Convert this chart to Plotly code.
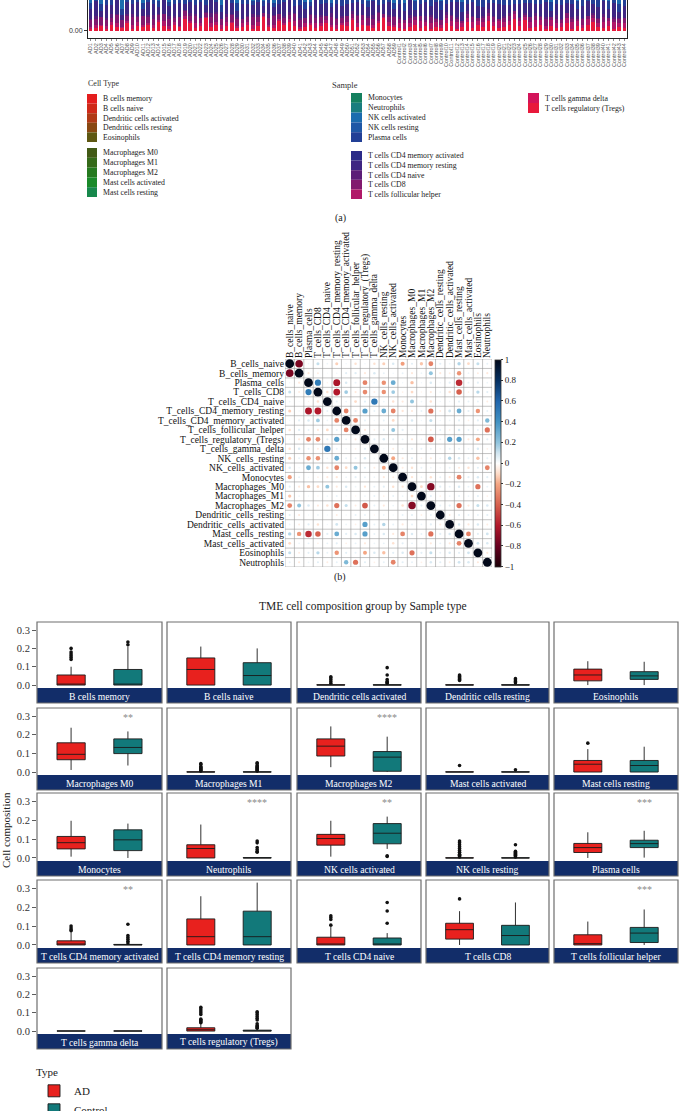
import plotly.graph_objects as go

W, H = 680, 1111
def fx(px): return px / W
def fy(py): return 1 - py / H

SERIF = "Liberation Serif"
SANS = "Liberation Sans"

# ------------------------- (a) stacked bar data -------------------------
cell_types = ["B cells memory", "B cells naive", "Dendritic cells activated", "Dendritic cells resting", "Eosinophils",
              "Macrophages M0", "Macrophages M1", "Macrophages M2", "Mast cells activated", "Mast cells resting",
              "Monocytes", "Neutrophils", "NK cells activated", "NK cells resting", "Plasma cells",
              "T cells CD4 memory activated", "T cells CD4 memory resting", "T cells CD4 naive", "T cells CD8",
              "T cells follicular helper", "T cells gamma delta", "T cells regulatory (Tregs)"]
cell_colors = ["#E41E1E", "#CF2A1A", "#B03A16", "#894812", "#5E5812",
               "#425A16", "#356A1A", "#257A20", "#1A8A2A", "#17884C",
               "#15805F", "#1A7D7E", "#1B6CAE", "#1F58A6", "#223F96",
               "#2B2B88", "#3E2682", "#5C1E78", "#82196E", "#B01868",
               "#D3145A", "#E8193C"]

ad_samples = ["AD%d" % i for i in range(1, 60)]
ctrl_samples = ["Control%d" % i for i in range(1, 45)]
samples = ad_samples + ctrl_samples

tregs_ad = [0.02,0.03,0.05,0.02,0.06,0.04,0.03,0.07,0.02,0.05,
            0.04,0.06,0.03,0.08,0.05,0.02,0.06,0.04,0.11,0.07,
            0.03,0.05,0.12,0.04,0.06,0.02,0.05,0.07,0.03,0.04,
            0.06,0.02,0.05,0.13,0.04,0.03,0.09,0.06,0.08,0.05,
            0.02,0.04,0.06,0.03,0.05,0.07,0.04,0.02,0.06,0.05,
            0.10,0.04,0.06,0.05,0.03,0.07,0.12,0.05,0.04]
tregs_ctrl = [0.03,0.02,0.04,0.06,0.03,0.05,0.02,0.04,0.03,0.07,
              0.05,0.02,0.04,0.08,0.03,0.06,0.04,0.09,0.05,0.03,
              0.04,0.06,0.11,0.05,0.10,0.03,0.04,0.06,0.02,0.05,
              0.03,0.04,0.07,0.02,0.05,0.03,0.06,0.08,0.04,0.03,
              0.05,0.02,0.04,0.03]
tfh_ad = [0.02,0.03,0.01,0.03,0.02,0.03,0.01,0.02,0.04,0.03,
          0.02,0.01,0.03,0.02,0.04,0.03,0.02,0.01,0.03,0.02,
          0.04,0.02,0.01,0.03,0.02,0.04,0.03,0.01,0.02,0.03,
          0.02,0.04,0.03,0.01,0.02,0.03,0.02,0.01,0.03,0.04,
          0.02,0.03,0.01,0.04,0.02,0.03,0.02,0.04,0.01,0.03,
          0.02,0.03,0.04,0.01,0.03,0.02,0.01,0.03,0.02]
tfh_ctrl = [0.04,0.05,0.03,0.04,0.06,0.03,0.05,0.04,0.03,0.05,
            0.04,0.06,0.03,0.04,0.05,0.03,0.04,0.05,0.03,0.06,
            0.04,0.03,0.05,0.04,0.03,0.05,0.06,0.04,0.03,0.05,
            0.04,0.03,0.05,0.06,0.04,0.03,0.05,0.04,0.03,0.05,
            0.04,0.06,0.03,0.04]
cd8_ad = [0.06,0.05,0.07,0.05,0.04,0.08,0.06,0.05,0.07,0.05,
          0.08,0.06,0.05,0.05,0.07,0.06,0.04,0.08,0.05,0.05,
          0.07,0.05,0.04,0.06,0.08,0.05,0.05,0.07,0.06,0.04,
          0.05,0.07,0.05,0.03,0.06,0.08,0.05,0.05,0.04,0.07,
          0.06,0.05,0.08,0.05,0.06,0.04,0.07,0.05,0.05,0.06,
          0.04,0.07,0.05,0.06,0.05,0.08,0.03,0.05,0.07]
cd8_ctrl = [0.04,0.03,0.05,0.03,0.05,0.02,0.06,0.03,0.04,0.03,
            0.05,0.03,0.02,0.04,0.05,0.03,0.04,0.03,0.05,0.02,
            0.04,0.05,0.03,0.03,0.02,0.05,0.04,0.03,0.06,0.03,
            0.04,0.03,0.05,0.03,0.02,0.05,0.03,0.03,0.04,0.05,
            0.03,0.03,0.04,0.05]
cd4n_ad = [0.01,0.03,0.00,0.02,0.04,0.01,0.00,0.02,0.03,0.01,
           0.00,0.02,0.04,0.01,0.00,0.03,0.02,0.00,0.01,0.03,
           0.02,0.00,0.01,0.04,0.02,0.00,0.03,0.01,0.02,0.00,
           0.01,0.03,0.02,0.00,0.04,0.01,0.00,0.02,0.03,0.01,
           0.02,0.00,0.01,0.03,0.02,0.00,0.04,0.01,0.02,0.00,
           0.03,0.01,0.00,0.02,0.04,0.01,0.00,0.02,0.01]
cd4n_ctrl = [0.02,0.00,0.03,0.01,0.00,0.04,0.02,0.01,0.00,0.03,
             0.01,0.02,0.00,0.03,0.01,0.00,0.02,0.04,0.01,0.00,
             0.02,0.03,0.00,0.01,0.02,0.00,0.03,0.01,0.02,0.00,
             0.04,0.01,0.00,0.02,0.03,0.01,0.00,0.02,0.01,0.03,
             0.00,0.02,0.01,0.00]
cd4mr_ad = [0.10,0.14,0.06,0.12,0.08,0.15,0.05,0.11,0.09,0.13,
            0.07,0.12,0.10,0.06,0.14,0.09,0.11,0.13,0.05,0.10,
            0.08,0.15,0.06,0.12,0.09,0.07,0.13,0.10,0.06,0.14,
            0.11,0.08,0.12,0.06,0.10,0.07,0.09,0.13,0.11,0.06,
            0.12,0.09,0.07,0.14,0.10,0.12,0.05,0.13,0.09,0.11,
            0.07,0.12,0.10,0.08,0.13,0.06,0.09,0.12,0.07]
cd4mr_ctrl = [0.12,0.09,0.14,0.06,0.11,0.13,0.08,0.15,0.10,0.07,
              0.12,0.14,0.09,0.06,0.13,0.11,0.08,0.05,0.12,0.14,
              0.10,0.07,0.06,0.12,0.09,0.13,0.08,0.11,0.14,0.06,
              0.10,0.13,0.09,0.12,0.07,0.11,0.14,0.08,0.10,0.12,
              0.09,0.13,0.06,0.11]
plasma_ad = [0.05,0.04,0.06,0.05,0.07,0.04,0.06,0.05,0.04,0.06,
             0.05,0.07,0.04,0.06,0.05,0.04,0.06,0.07,0.05,0.04,
             0.06,0.05,0.07,0.04,0.05,0.06,0.04,0.05,0.07,0.06,
             0.05,0.04,0.06,0.05,0.07,0.04,0.05,0.06,0.04,0.07,
             0.05,0.06,0.04,0.05,0.07,0.06,0.04,0.05,0.06,0.05,
             0.07,0.04,0.05,0.06,0.04,0.05,0.07,0.06,0.05]
plasma_ctrl = [0.08,0.07,0.09,0.08,0.07,0.09,0.08,0.07,0.08,0.09,
               0.07,0.08,0.09,0.07,0.08,0.08,0.09,0.07,0.08,0.07,
               0.09,0.08,0.07,0.08,0.09,0.07,0.08,0.09,0.07,0.08,
               0.08,0.07,0.09,0.08,0.07,0.08,0.09,0.07,0.08,0.09,
               0.07,0.08,0.07,0.09]
nka_ad = [0.10,0.08,0.12,0.09,0.11,0.07,0.13,0.10,0.08,0.09,
          0.11,0.10,0.12,0.08,0.09,0.11,0.10,0.07,0.12,0.09,
          0.10,0.08,0.11,0.09,0.10,0.12,0.08,0.09,0.11,0.10,
          0.09,0.12,0.08,0.10,0.11,0.09,0.10,0.08,0.12,0.09,
          0.11,0.10,0.09,0.08,0.12,0.10,0.11,0.09,0.10,0.08,
          0.12,0.09,0.10,0.11,0.08,0.10,0.09,0.12,0.10]
nka_ctrl = [0.13,0.15,0.12,0.14,0.13,0.16,0.12,0.14,0.15,0.13,
            0.12,0.14,0.16,0.13,0.12,0.15,0.14,0.13,0.12,0.16,
            0.14,0.13,0.12,0.15,0.14,0.13,0.12,0.16,0.14,0.13,
            0.15,0.12,0.14,0.13,0.16,0.12,0.14,0.15,0.13,0.12,
            0.14,0.13,0.15,0.12]

stack_layers = [  # bottom to top
    ("T cells regulatory (Tregs)", tregs_ad + tregs_ctrl),
    ("T cells follicular helper", tfh_ad + tfh_ctrl),
    ("T cells CD8", cd8_ad + cd8_ctrl),
    ("T cells CD4 naive", cd4n_ad + cd4n_ctrl),
    ("T cells CD4 memory resting", cd4mr_ad + cd4mr_ctrl),
    ("Plasma cells", plasma_ad + plasma_ctrl),
    ("NK cells activated", nka_ad + nka_ctrl),
]

# ------------------------- (b) correlation data -------------------------
corr_names = ["B_cells_naive", "B_cells_memory", "Plasma_cells", "T_cells_CD8", "T_cells_CD4_naive",
              "T_cells_CD4_memory_resting", "T_cells_CD4_memory_activated", "T_cells_follicular_helper",
              "T_cells_regulatory_(Tregs)", "T_cells_gamma_delta", "NK_cells_resting", "NK_cells_activated",
              "Monocytes", "Macrophages_M0", "Macrophages_M1", "Macrophages_M2", "Dendritic_cells_resting",
              "Dendritic_cells_activated", "Mast_cells_resting", "Mast_cells_activated", "Eosinophils", "Neutrophils"]
corr_lower = [
    [],
    [-0.75],
    [0.03, -0.06],
    [0.12, -0.05, 0.5],
    [0.04, 0.02, -0.03, -0.08],
    [-0.12, 0.03, -0.62, -0.6, 0.05],
    [0.03, 0.06, 0.08, 0.18, 0.04, -0.3],
    [-0.08, 0.07, 0.05, -0.06, -0.1, 0.05, -0.3],
    [0.03, -0.06, -0.3, -0.28, 0.06, 0.35, 0.05, -0.06],
    [-0.08, 0.08, 0.05, -0.05, 0.52, 0.05, 0.03, -0.04, 0.06],
    [-0.12, 0.05, -0.26, -0.26, 0.04, 0.3, 0.05, 0.05, 0.08, 0.03],
    [0.08, 0.03, 0.3, 0.18, -0.08, -0.3, -0.1, 0.2, 0.06, -0.05, -0.2],
    [-0.22, 0.05, 0.03, -0.04, -0.06, -0.07, 0.04, 0.06, 0.05, 0.04, -0.06, -0.05],
    [0.06, -0.06, -0.15, -0.1, 0.2, -0.06, 0.08, 0.04, -0.07, 0.05, 0.06, -0.08, -0.07],
    [-0.14, 0.04, 0.03, -0.03, 0.04, 0.05, 0.03, -0.03, 0.04, 0.05, -0.04, 0.05, 0.04, -0.1],
    [-0.3, 0.2, 0.08, -0.06, -0.08, -0.35, 0.12, -0.05, -0.42, 0.05, -0.06, 0.04, -0.08, -0.72, 0.06],
    [0.06, -0.06, 0.03, 0.04, 0.03, -0.05, 0.03, 0.05, 0.05, -0.03, 0.04, 0.03, 0.05, 0.06, -0.04, 0.05],
    [0.04, -0.05, 0.06, -0.08, 0.03, 0.1, 0.04, -0.04, 0.35, 0.05, 0.15, 0.05, -0.06, 0.05, 0.04, 0.06, -0.05],
    [0.15, -0.25, -0.55, -0.4, 0.06, 0.3, 0.06, 0.08, 0.35, 0.05, 0.08, -0.06, -0.3, 0.08, 0.05, -0.35, 0.06, 0.08],
    [-0.1, 0.04, 0.05, -0.04, 0.05, 0.06, -0.04, 0.05, -0.06, 0.04, 0.05, -0.08, 0.06, 0.05, 0.04, -0.06, 0.05, -0.06, -0.3],
    [0.12, -0.05, 0.06, 0.14, 0.05, -0.25, 0.06, 0.05, -0.2, 0.08, -0.15, 0.06, 0.08, -0.35, 0.06, 0.12, 0.05, 0.08, 0.06, 0.1],
    [0.05, -0.06, 0.04, 0.06, -0.05, 0.05, 0.25, -0.35, 0.06, -0.04, 0.05, -0.3, 0.06, 0.05, -0.04, 0.08, 0.06, -0.05, 0.1, 0.08, -0.06],
]
corr_ticks = [1, 0.8, 0.6, 0.4, 0.2, 0, -0.2, -0.4, -0.6, -0.8, -1]

# ------------------------- (c) box plot data -------------------------
box_panels = ["B cells memory", "B cells naive", "Dendritic cells activated", "Dendritic cells resting", "Eosinophils",
              "Macrophages M0", "Macrophages M1", "Macrophages M2", "Mast cells activated", "Mast cells resting",
              "Monocytes", "Neutrophils", "NK cells activated", "NK cells resting", "Plasma cells",
              "T cells CD4 memory activated", "T cells CD4 memory resting", "T cells CD4 naive", "T cells CD8",
              "T cells follicular helper", "T cells gamma delta", "T cells regulatory (Tregs)"]
ad_q1 = [0, 0, 0, 0, 0.023, 0.066, 0, 0.086, 0, 0, 0.048, 0, 0.068, 0, 0.029, 0, 0, 0, 0.031, 0, 0, 0]
ad_med = [0.005, 0.085, 0, 0, 0.055, 0.095, 0, 0.139, 0, 0.042, 0.081, 0.05, 0.103, 0, 0.055, 0.004, 0.044, 0.002, 0.081, 0.007, 0, 0.007]
ad_q3 = [0.055, 0.148, 0.002, 0.002, 0.087, 0.157, 0.001, 0.178, 0.001, 0.062, 0.114, 0.07, 0.125, 0.001, 0.077, 0.022, 0.138, 0.041, 0.115, 0.054, 0.001, 0.018]
ad_lo = [0, 0, 0, 0, 0, 0.011, 0, 0.026, 0, 0, 0.007, 0, 0.007, 0, 0, 0, 0, 0, 0, 0, 0, 0]
ad_hi = [0.10, 0.21, 0.004, 0.004, 0.13, 0.238, 0.002, 0.245, 0.002, 0.123, 0.197, 0.177, 0.197, 0.002, 0.136, 0.068, 0.258, 0.095, 0.179, 0.124, 0.001, 0.04]
ad_out = [[0.14, 0.15, 0.16, 0.17, 0.18, 0.20], [], [0.01, 0.02, 0.03, 0.04, 0.045],
          [0.025, 0.03, 0.035, 0.04, 0.045, 0.05, 0.055], [],
          [], [0.005, 0.01, 0.015, 0.02, 0.025, 0.03, 0.04, 0.045], [], [0.035], [0.155],
          [], [], [], [0.005, 0.01, 0.015, 0.02, 0.03, 0.04, 0.05, 0.06, 0.07, 0.08, 0.09], [],
          [0.075, 0.08, 0.09, 0.1], [], [0.105, 0.135, 0.145, 0.155], [0.244], [],
          [], [0.045, 0.05, 0.055, 0.06, 0.065, 0.09, 0.1, 0.11, 0.12, 0.13]]
ctrl_q1 = [0, 0, 0, 0, 0.031, 0.099, 0, 0.004, 0, 0, 0.039, 0, 0.075, 0, 0.055, 0, 0, 0, 0, 0.013, 0, 0]
ctrl_med = [0.005, 0.052, 0, 0, 0.05, 0.132, 0, 0.08, 0, 0.035, 0.096, 0, 0.131, 0, 0.076, 0.001, 0.044, 0.002, 0.05, 0.063, 0, 0.001]
ctrl_q3 = [0.085, 0.122, 0.002, 0.002, 0.073, 0.178, 0.001, 0.11, 0.001, 0.062, 0.149, 0.002, 0.182, 0.001, 0.094, 0.003, 0.179, 0.037, 0.104, 0.093, 0.001, 0.005]
ctrl_lo = [0, 0, 0, 0, 0, 0.035, 0, 0, 0, 0, 0, 0, 0.048, 0, 0.002, 0, 0, 0, 0, 0, 0, 0]
ctrl_hi = [0.21, 0.20, 0.004, 0.004, 0.127, 0.218, 0.002, 0.19, 0.002, 0.136, 0.182, 0.004, 0.219, 0.002, 0.144, 0.005, 0.33, 0.063, 0.225, 0.188, 0.001, 0.01]
ctrl_out = [[0.22, 0.235], [], [0.01, 0.015, 0.02, 0.03, 0.055, 0.095], [0.012, 0.02, 0.028, 0.035], [],
            [], [0.005, 0.01, 0.015, 0.02, 0.025, 0.03, 0.035, 0.045, 0.05], [], [0.012], [],
            [], [0.03, 0.035, 0.045, 0.055, 0.08, 0.09], [0.008, 0.012],
            [0.005, 0.01, 0.015, 0.02, 0.025, 0.03, 0.035, 0.07], [],
            [0.01, 0.02, 0.03, 0.04, 0.05, 0.11], [], [0.115, 0.18, 0.225], [], [],
            [], [0.015, 0.02, 0.025, 0.03, 0.04, 0.06, 0.07, 0.08, 0.09, 0.1, 0.105]]
sig_labels = ["", "", "", "", "", "**", "", "****", "", "", "", "****", "**", "", "***",
              "**", "", "", "", "***", "", ""]
groups = ["AD", "Control"]
group_colors = ["#E8211E", "#12797A"]
box_yticks = [0, 0.1, 0.2, 0.3]

# ------------------------- figure -------------------------
fig = go.Figure()
layout = dict(width=W, height=H, margin=dict(l=0, r=0, t=0, b=0, autoexpand=False),
              paper_bgcolor="white", plot_bgcolor="rgba(0,0,0,0)", template="none",
              font=dict(family=SERIF, color="#222"), barmode="stack", bargap=0.33,
              boxmode="overlay", boxgap=0.29, showlegend=True)
annotations = []
shapes = []

# (a) stacked bars
color_of = dict(zip(cell_types, cell_colors))
for name, vals in stack_layers:
    fig.add_trace(go.Bar(x=samples, y=vals, name=name, marker=dict(color=color_of[name], line=dict(width=0)),
                         xaxis="x", yaxis="y", showlegend=False, hoverinfo="skip"))
layout["xaxis"] = dict(domain=[fx(88), fx(627)], anchor="y", type="category", range=[-0.5, len(samples) - 0.5],
                       tickmode="array", tickvals=samples, ticktext=samples, tickangle=-90,
                       tickfont=dict(family=SANS, size=5.5, color="#555"), ticks="outside", ticklen=2,
                       tickwidth=0.6, tickcolor="#444", showline=True, linecolor="#222", linewidth=1, mirror=False,
                       showgrid=False, zeroline=False)
layout["yaxis"] = dict(domain=[fy(38), 1], anchor="x", range=[-0.066, 0.29], tickvals=[0], ticktext=["0.00"],
                       tickfont=dict(family=SANS, size=7, color="#333"), ticks="outside", ticklen=3,
                       tickcolor="#333", showline=True, linecolor="#222", linewidth=1, mirror=True,
                       showgrid=False, zeroline=False)
annotations.append(dict(text="Sample", x=fx(345), y=fy(78), xref="paper", yref="paper", showarrow=False,
                        xanchor="center", font=dict(family=SERIF, size=8.5, color="#333")))
annotations.append(dict(text="Cell Type", x=fx(86), y=fy(84), xref="paper", yref="paper", showarrow=False,
                        xanchor="left", yanchor="middle", font=dict(family=SERIF, size=8, color="#333")))
legend_blocks = [(0, 5, 87, 97, 94, 9.6), (5, 10, 87, 97, 148, 9.8), (10, 15, 351, 362, 93, 9.8),
                 (15, 20, 351, 362, 151, 9.6), (20, 22, 528, 539, 93, 10)]
for i0, i1, sx0, sx1, top, step in legend_blocks:
    for j, idx in enumerate(range(i0, i1)):
        y0 = top + j * step
        shapes.append(dict(type="rect", xref="paper", yref="paper", x0=fx(sx0), x1=fx(sx1), y0=fy(y0),
                           y1=fy(y0 + step), fillcolor=cell_colors[idx], line=dict(width=0), layer="above"))
        annotations.append(dict(text=cell_types[idx], x=fx(sx1 + 4), y=fy(y0 + step / 2), xref="paper",
                                yref="paper", showarrow=False, xanchor="left", yanchor="middle",
                                font=dict(family=SERIF, size=7.8, color="#222")))
annotations.append(dict(text="(a)", x=fx(340), y=fy(210), xref="paper", yref="paper", showarrow=False,
                        xanchor="center", font=dict(family=SERIF, size=10, color="#222")))

# (b) correlation plot
n = len(corr_names)
full = [[1.0 if i == j else None for j in range(n)] for i in range(n)]
for i in range(n):
    for j, v in enumerate(corr_lower[i]):
        full[i][j] = v
        full[j][i] = v
cx, cy, cv = [], [], []
for i in range(n):
    for j in range(n):
        cx.append(j + 1)
        cy.append(i + 1)
        cv.append(full[i][j])
gx, gy = [], []
for k in range(n + 1):
    gx += [k + 0.5, k + 0.5, None, 0.5, n + 0.5, None]
    gy += [0.5, n + 0.5, None, k + 0.5, k + 0.5, None]
fig.add_trace(go.Scatter(x=gx, y=gy, mode="lines", line=dict(color="#9a9a9a", width=0.6), xaxis="x2",
                         yaxis="y2", showlegend=False, hoverinfo="skip"))
cs_pts = [(-1, "#1c0008"), (-0.8, "#67001F"), (-0.6, "#B2182B"), (-0.4, "#D6604D"), (-0.2, "#F4A582"),
          (-0.1, "#FDDBC7"), (0, "#FFFFFF"), (0.1, "#D1E5F0"), (0.2, "#92C5DE"), (0.4, "#4393C3"),
          (0.6, "#2166AC"), (0.8, "#053061"), (1, "#02091a")]
colorscale = [[(v + 1) / 2, c] for v, c in cs_pts]
fig.add_trace(go.Scatter(
    x=cx, y=cy, mode="markers", xaxis="x2", yaxis="y2", showlegend=False,
    marker=dict(size=[8.8 * abs(v) ** 0.5 for v in cv], color=cv, colorscale=colorscale, cmin=-1, cmax=1,
                opacity=1, line=dict(width=0),
                colorbar=dict(x=fx(495), xanchor="left", xpad=0, y=fy(463), yanchor="middle", ypad=0,
                              len=207 / H, lenmode="fraction", thickness=6, thicknessmode="pixels",
                              outlinecolor="#333", outlinewidth=0.8, tickvals=corr_ticks,
                              ticktext=[("%g" % t).replace("-", "\u2212") for t in corr_ticks],
                              ticks="outside", ticklen=2, tickcolor="#333",
                              tickfont=dict(family=SERIF, size=9, color="#222"))),
    hoverinfo="skip"))
layout["xaxis2"] = dict(domain=[fx(285), fx(492)], anchor="y2", range=[0.5, n + 0.5], side="top",
                        tickmode="array", tickvals=list(range(1, n + 1)), ticktext=corr_names, tickangle=-90,
                        tickfont=dict(family=SERIF, size=9.5, color="#111"), ticks="", showgrid=False,
                        zeroline=False, showline=False)
layout["yaxis2"] = dict(domain=[fy(567), fy(359)], anchor="x2", range=[n + 0.5, 0.5], tickmode="array",
                        tickvals=list(range(1, n + 1)), ticktext=corr_names,
                        tickfont=dict(family=SERIF, size=9.5, color="#111"), ticks="", showgrid=False,
                        zeroline=False, showline=False)
annotations.append(dict(text="(b)", x=fx(340), y=fy(577), xref="paper", yref="paper", showarrow=False,
                        xanchor="center", font=dict(family=SERIF, size=10, color="#222")))

# (c) box plots
col_x = [(37, 162), (167, 291), (297, 421), (426, 549), (554, 678)]
row_top = [622, 708, 793, 880, 968]
strip_bot = [703, 790, 876, 963, 1049]
strip_h = 15
stats = {"AD": (ad_q1, ad_med, ad_q3, ad_lo, ad_hi, ad_out),
         "Control": (ctrl_q1, ctrl_med, ctrl_q3, ctrl_lo, ctrl_hi, ctrl_out)}
for p, pname in enumerate(box_panels):
    r, c = divmod(p, 5)
    k = p + 3
    xa, ya = "x%d" % k, "y%d" % k
    x0, x1 = col_x[c]
    top, sb = row_top[r], strip_bot[r]
    st = sb - strip_h
    for g, gc in zip(groups, group_colors):
        q1, med, q3, lo, hi, outs = stats[g]
        fig.add_trace(go.Box(x=[g], q1=[q1[p]], median=[med[p]], q3=[q3[p]], lowerfence=[lo[p]],
                             upperfence=[hi[p]], name=g, legendgroup=g, showlegend=(p == 0),
                             fillcolor=gc, line=dict(color="#1a1a1a", width=0.9), whiskerwidth=0,
                             boxpoints=False, xaxis=xa, yaxis=ya, hoverinfo="skip"))
        if outs[p]:
            fig.add_trace(go.Scatter(x=[g] * len(outs[p]), y=outs[p], mode="markers",
                                     marker=dict(color="#111", size=3.6, opacity=1), xaxis=xa, yaxis=ya,
                                     showlegend=False, hoverinfo="skip"))
    layout["xaxis%d" % k] = dict(domain=[fx(x0), fx(x1)], anchor=ya, type="category",
                                 categoryorder="array", categoryarray=groups, range=[-0.6, 1.6],
                                 showticklabels=False, ticks="", showgrid=False, zeroline=False,
                                 showline=False)
    yax = dict(domain=[fy(st), fy(top)], anchor=xa, range=[-0.016, 0.344], showgrid=False, zeroline=False,
               showline=False)
    if c == 0:
        yax.update(tickmode="array", tickvals=box_yticks, ticktext=["%.1f" % v for v in box_yticks],
                   ticks="outside", ticklen=4, tickcolor="#333", tickwidth=0.8,
                   tickfont=dict(family=SERIF, size=10.5, color="#333"))
    else:
        yax.update(showticklabels=False, ticks="")
    layout["yaxis%d" % k] = yax
    shapes.append(dict(type="rect", xref="paper", yref="paper", x0=fx(x0), x1=fx(x1), y0=fy(sb), y1=fy(st),
                       fillcolor="#122d69", line=dict(width=0), layer="above"))
    shapes.append(dict(type="rect", xref="paper", yref="paper", x0=fx(x0), x1=fx(x1), y0=fy(sb), y1=fy(top),
                       fillcolor="rgba(0,0,0,0)", line=dict(color="#6e6e6e", width=1.2), layer="above"))
    annotations.append(dict(text=pname, x=fx((x0 + x1) / 2), y=fy(st + strip_h / 2 + 0.5), xref="paper",
                            yref="paper", showarrow=False, xanchor="center", yanchor="middle",
                            font=dict(family=SERIF, size=9.6, color="white")))
    if sig_labels[p]:
        annotations.append(dict(text=sig_labels[p], x=1, y=0.295, xref=xa, yref=ya, showarrow=False,
                                xanchor="center", yanchor="middle",
                                font=dict(family=SERIF, size=10, color="#8a8a8a")))

annotations.append(dict(text="TME cell composition group by Sample type", x=fx(363), y=fy(606), xref="paper",
                        yref="paper", showarrow=False, xanchor="center",
                        font=dict(family=SERIF, size=11.5, color="#222")))
annotations.append(dict(text="Cell composition", x=fx(6), y=fy(830), xref="paper", yref="paper",
                        showarrow=False, textangle=-90, xanchor="center", yanchor="middle",
                        font=dict(family=SERIF, size=11, color="#222")))

layout["legend"] = dict(title=dict(text="Type", font=dict(family=SERIF, size=11, color="#222")),
                        x=fx(34), y=fy(1062), xanchor="left", yanchor="top", bgcolor="rgba(0,0,0,0)",
                        font=dict(family=SERIF, size=11, color="#222"), tracegroupgap=2, traceorder="normal")
layout["annotations"] = annotations
layout["shapes"] = shapes
fig.update_layout(**layout)
fig.write_html("out.html", config={"displayModeBar": False, "staticPlot": True},
               post_script="document.body.style.margin='0px';")
